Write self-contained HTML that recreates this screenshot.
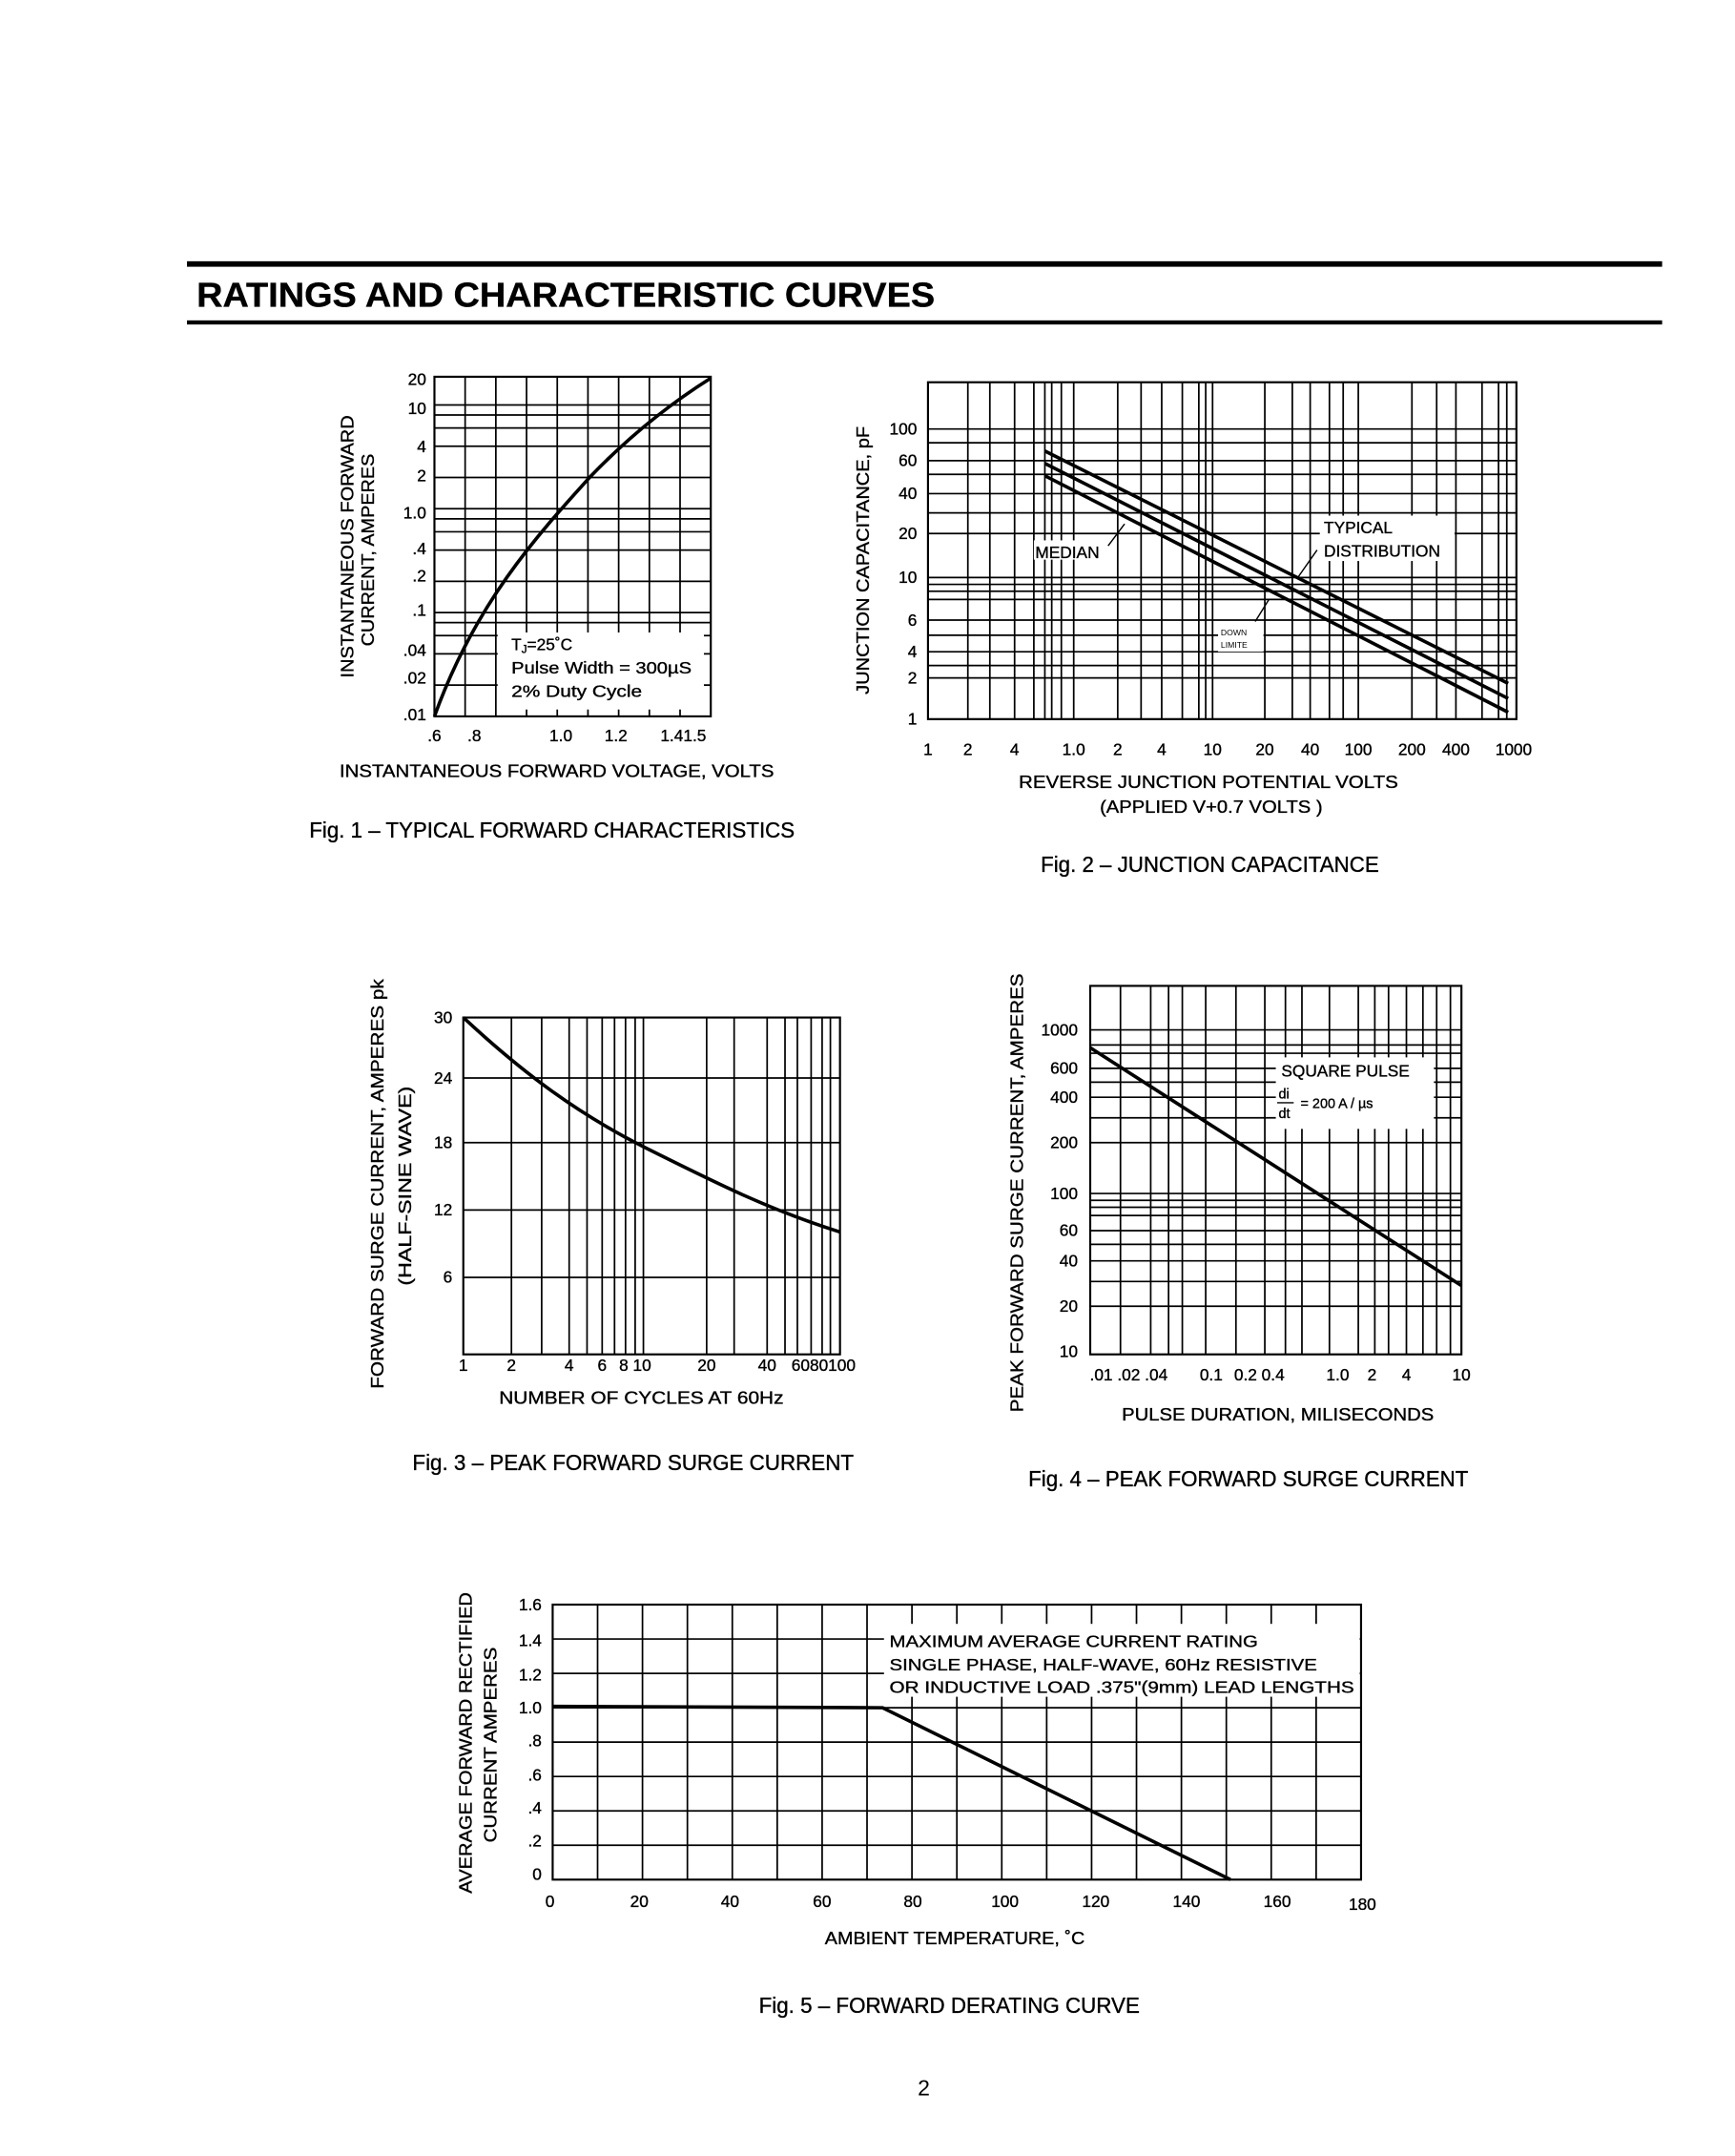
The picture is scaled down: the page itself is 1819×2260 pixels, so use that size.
<!DOCTYPE html>
<html><head><meta charset="utf-8"><style>
html,body{margin:0;padding:0;background:#fff;}
svg{display:block;}
text{font-family:"Liberation Sans",Arial,sans-serif;fill:#000;stroke:#000;stroke-width:0.25;}
.t{font-size:12px;}
.a{font-size:13px;}
.c{font-size:16px;}
</style></head><body>
<svg id="s" width="1819" height="2260" viewBox="0 0 1262 1568" preserveAspectRatio="none" xmlns="http://www.w3.org/2000/svg">
<rect width="1262" height="1568" fill="#fff"/>
<rect x="136" y="190" width="1073" height="4" fill="#000"/>
<rect x="136" y="233" width="1073" height="3" fill="#000"/>
<text x="143" y="223" font-size="25" font-weight="bold" textLength="537" lengthAdjust="spacingAndGlyphs">RATINGS AND CHARACTERISTIC CURVES</text>
<g id="grid" stroke="#000" stroke-width="1.2" fill="none"></g>

<!-- Fig 1 -->
<rect x="362" y="460" width="150" height="56" fill="#fff"/>
<rect x="316" y="274" width="201" height="247" fill="none" stroke="#000" stroke-width="1.5"/>
<path d="M316,521 C345,440 390,390 430,346 C460,315 490,292 517,275" fill="none" stroke="#000" stroke-width="2.5"/>
<g class="t" text-anchor="end">
<text x="310" y="280">20</text><text x="310" y="301">10</text><text x="310" y="329">4</text><text x="310" y="350">2</text><text x="310" y="377">1.0</text><text x="310" y="403">.4</text><text x="310" y="423">.2</text><text x="310" y="448">.1</text><text x="310" y="477">.04</text><text x="310" y="497">.02</text><text x="310" y="524">.01</text></g>
<g class="t" text-anchor="middle"><text x="316" y="539">.6</text><text x="345" y="539">.8</text><text x="408" y="539">1.0</text><text x="448" y="539">1.2</text><text x="497" y="539">1.41.5</text></g>
<text class="t" x="372" y="473">T<tspan font-size="8" dy="2">J</tspan><tspan dy="-2">=25˚C</tspan></text>
<text class="t" x="372" y="490" textLength="131" lengthAdjust="spacingAndGlyphs">Pulse  Width = 300µS</text>
<text class="t" x="372" y="507" textLength="95" lengthAdjust="spacingAndGlyphs">2%  Duty  Cycle</text>
<text class="a" x="247" y="565" textLength="316" lengthAdjust="spacingAndGlyphs">INSTANTANEOUS  FORWARD  VOLTAGE,  VOLTS</text>
<text class="a" transform="translate(257,493) rotate(-90)" textLength="191" lengthAdjust="spacingAndGlyphs">INSTANTANEOUS  FORWARD</text>
<text class="a" transform="translate(272,470) rotate(-90)" textLength="140" lengthAdjust="spacingAndGlyphs">CURRENT,  AMPERES</text>
<text class="c" x="225" y="609" textLength="353" lengthAdjust="spacingAndGlyphs">Fig. 1 – TYPICAL FORWARD CHARACTERISTICS</text>

<!-- Fig 2 -->
<rect x="675" y="278" width="428" height="245" fill="none" stroke="#000" stroke-width="1.5"/>
<rect x="752" y="393" width="54" height="14" fill="#fff"/>
<rect x="960" y="375" width="98" height="33" fill="#fff"/>
<rect x="886" y="454" width="33" height="20" fill="#fff"/>
<g stroke="#000" stroke-width="2.5">
<line x1="760" y1="328" x2="1097" y2="497"/><line x1="760" y1="337" x2="1097" y2="508"/><line x1="760" y1="346" x2="1097" y2="518"/></g>
<g stroke="#000" stroke-width="1"><line x1="806" y1="397" x2="818" y2="381"/><line x1="958" y1="400" x2="944" y2="420"/><line x1="913" y1="452" x2="923" y2="436"/></g>
<text class="t" x="753" y="406">MEDIAN</text>
<text class="t" x="963" y="388">TYPICAL</text><text class="t" x="963" y="405">DISTRIBUTION</text>
<text x="888" y="462" font-size="6" style="stroke-width:0">DOWN</text><text x="888" y="471" font-size="6" style="stroke-width:0">LIMITE</text>
<g class="t" text-anchor="end"><text x="667" y="316">100</text><text x="667" y="339">60</text><text x="667" y="363">40</text><text x="667" y="392">20</text><text x="667" y="424">10</text><text x="667" y="455">6</text><text x="667" y="478">4</text><text x="667" y="497">2</text><text x="667" y="527">1</text></g>
<g class="t" text-anchor="middle"><text x="675" y="549">1</text><text x="704" y="549">2</text><text x="738" y="549">4</text><text x="781" y="549">1.0</text><text x="813" y="549">2</text><text x="845" y="549">4</text><text x="882" y="549">10</text><text x="920" y="549">20</text><text x="953" y="549">40</text><text x="988" y="549">100</text><text x="1027" y="549">200</text><text x="1059" y="549">400</text><text x="1101" y="549">1000</text></g>
<text class="a" x="741" y="573" textLength="276" lengthAdjust="spacingAndGlyphs">REVERSE  JUNCTION  POTENTIAL  VOLTS</text>
<text class="a" x="800" y="591" textLength="162" lengthAdjust="spacingAndGlyphs">(APPLIED  V+0.7  VOLTS )</text>
<text class="a" transform="translate(632,505) rotate(-90)" textLength="195" lengthAdjust="spacingAndGlyphs">JUNCTION  CAPACITANCE,  pF</text>
<text class="c" x="757" y="634" textLength="246" lengthAdjust="spacingAndGlyphs">Fig. 2 – JUNCTION CAPACITANCE</text>

<!-- Fig 3 -->
<rect x="337" y="740" width="274" height="245" fill="none" stroke="#000" stroke-width="1.5"/>
<path d="M337,740 C380,780 420,810 470,835 C520,860 560,880 611,896" fill="none" stroke="#000" stroke-width="2.5"/>
<g class="t" text-anchor="end"><text x="329" y="744">30</text><text x="329" y="788">24</text><text x="329" y="835">18</text><text x="329" y="884">12</text><text x="329" y="933">6</text></g>
<g class="t" text-anchor="middle"><text x="337" y="997">1</text><text x="372" y="997">2</text><text x="414" y="997">4</text><text x="438" y="997">6</text><text x="462" y="997">8 10</text><text x="514" y="997">20</text><text x="558" y="997">40</text><text x="599" y="997">6080100</text></g>
<text class="a" x="363" y="1021" textLength="207" lengthAdjust="spacingAndGlyphs">NUMBER  OF  CYCLES  AT  60Hz</text>
<text class="a" transform="translate(279,1010) rotate(-90)" textLength="298" lengthAdjust="spacingAndGlyphs">FORWARD  SURGE  CURRENT,  AMPERES  pk</text>
<text class="a" transform="translate(299,935) rotate(-90)" textLength="145" lengthAdjust="spacingAndGlyphs">(HALF-SINE  WAVE)</text>
<text class="c" x="300" y="1069" textLength="321" lengthAdjust="spacingAndGlyphs">Fig. 3 – PEAK FORWARD SURGE CURRENT</text>

<!-- Fig 4 -->
<rect x="793" y="717" width="270" height="268" fill="none" stroke="#000" stroke-width="1.5"/>
<rect x="928" y="769" width="115" height="52" fill="#fff"/>
<line x1="793" y1="762" x2="1063" y2="935" stroke="#000" stroke-width="2.5"/>
<text class="t" x="932" y="783">SQUARE  PULSE</text>
<text x="930" y="799" font-size="10">di</text><line x1="929" y1="802" x2="941" y2="802" stroke="#000"/><text x="930" y="813" font-size="10">dt</text>
<text x="946" y="806" font-size="10">= 200 A / µs</text>
<g class="t" text-anchor="end"><text x="784" y="753">1000</text><text x="784" y="781">600</text><text x="784" y="802">400</text><text x="784" y="835">200</text><text x="784" y="872">100</text><text x="784" y="899">60</text><text x="784" y="921">40</text><text x="784" y="954">20</text><text x="784" y="987">10</text></g>
<g class="t" text-anchor="middle"><text x="821" y="1004">.01 .02 .04</text><text x="881" y="1004">0.1</text><text x="916" y="1004">0.2 0.4</text><text x="973" y="1004">1.0</text><text x="998" y="1004">2</text><text x="1023" y="1004">4</text><text x="1063" y="1004">10</text></g>
<text class="a" x="816" y="1033" textLength="227" lengthAdjust="spacingAndGlyphs">PULSE  DURATION,  MILISECONDS</text>
<text class="a" transform="translate(744,1027) rotate(-90)" textLength="319" lengthAdjust="spacingAndGlyphs">PEAK  FORWARD  SURGE  CURRENT,  AMPERES</text>
<text class="c" x="748" y="1081" textLength="320" lengthAdjust="spacingAndGlyphs">Fig. 4 – PEAK FORWARD SURGE CURRENT</text>

<!-- Fig 5 -->
<rect x="402" y="1167" width="588" height="200" fill="none" stroke="#000" stroke-width="1.5"/>
<rect x="643" y="1181" width="346" height="53" fill="#fff"/>
<polyline points="402,1241 642,1242 895,1367" fill="none" stroke="#000" stroke-width="2.5"/>
<text class="t" x="647" y="1198" textLength="268" lengthAdjust="spacingAndGlyphs">MAXIMUM  AVERAGE  CURRENT  RATING</text>
<text class="t" x="647" y="1215" textLength="311" lengthAdjust="spacingAndGlyphs">SINGLE  PHASE,  HALF-WAVE,  60Hz  RESISTIVE</text>
<text class="t" x="647" y="1231" textLength="338" lengthAdjust="spacingAndGlyphs">OR  INDUCTIVE  LOAD  .375"(9mm)  LEAD  LENGTHS</text>
<g class="t" text-anchor="end"><text x="394" y="1171">1.6</text><text x="394" y="1197">1.4</text><text x="394" y="1222">1.2</text><text x="394" y="1246">1.0</text><text x="394" y="1270">.8</text><text x="394" y="1295">.6</text><text x="394" y="1319">.4</text><text x="394" y="1343">.2</text><text x="394" y="1367">0</text></g>
<g class="t" text-anchor="middle"><text x="400" y="1387">0</text><text x="465" y="1387">20</text><text x="531" y="1387">40</text><text x="598" y="1387">60</text><text x="664" y="1387">80</text><text x="731" y="1387">100</text><text x="797" y="1387">120</text><text x="863" y="1387">140</text><text x="929" y="1387">160</text><text x="991" y="1389">180</text></g>
<text class="a" x="600" y="1414" textLength="189" lengthAdjust="spacingAndGlyphs">AMBIENT  TEMPERATURE, ˚C</text>
<text class="a" transform="translate(343,1377) rotate(-90)" textLength="219" lengthAdjust="spacingAndGlyphs">AVERAGE  FORWARD  RECTIFIED</text>
<text class="a" transform="translate(361,1340) rotate(-90)" textLength="142" lengthAdjust="spacingAndGlyphs">CURRENT  AMPERES</text>
<text class="c" x="552" y="1464" textLength="277" lengthAdjust="spacingAndGlyphs">Fig. 5 – FORWARD DERATING CURVE</text>

<text x="672" y="1524" font-size="16" text-anchor="middle" style="stroke-width:0">2</text>
</svg>
<script>
(function(){
var g=document.getElementById('grid'),ns='http://www.w3.org/2000/svg';
function L(x1,y1,x2,y2){var l=document.createElementNS(ns,'line');l.setAttribute('x1',x1);l.setAttribute('y1',y1);l.setAttribute('x2',x2);l.setAttribute('y2',y2);g.appendChild(l);}
for(var i=1;i<9;i++){var x=316+i*201/9;L(x,274,x,521);}
[10,8,6,4,2,1,.8,.6,.4,.2,.1,.08,.06,.04,.02].forEach(function(v){var y=521-(Math.log10(v)+2)*75.5;L(316,y,517,y);});
[704,720,738,752,760,765,772,781,813,830,845,860,872,877,882,920,940,953,967,977,988,1027,1045,1059,1078,1090,1096].forEach(function(x){L(x,278,x,523);});
[312,322,335,345,359,373,388,420,425,430,436,451,462,474,484,493].forEach(function(y){L(675,y,1103,y);});
[372,394,414,427,438,447,455,462,468,514,534,558,571,580,590,598,604].forEach(function(x){L(x,740,x,985);});
[784,831,880,929].forEach(function(y){L(337,y,611,y);});
[815,837,850,860,877,899,920,935,947,967,988,1000,1010,1023,1035,1045,1055].forEach(function(x){L(x,717,x,985);});
[749,760,766,777,787,798,813,831,868,873,878,884,895,905,917,932,950].forEach(function(y){L(793,y,1063,y);});
for(var i=1;i<18;i++){var x=402+i*588/18;L(x,1167,x,1367);}
for(var i=1;i<8;i++){var y=1167+i*25;L(402,y,990,y);}
})();
</script>
</body></html>
